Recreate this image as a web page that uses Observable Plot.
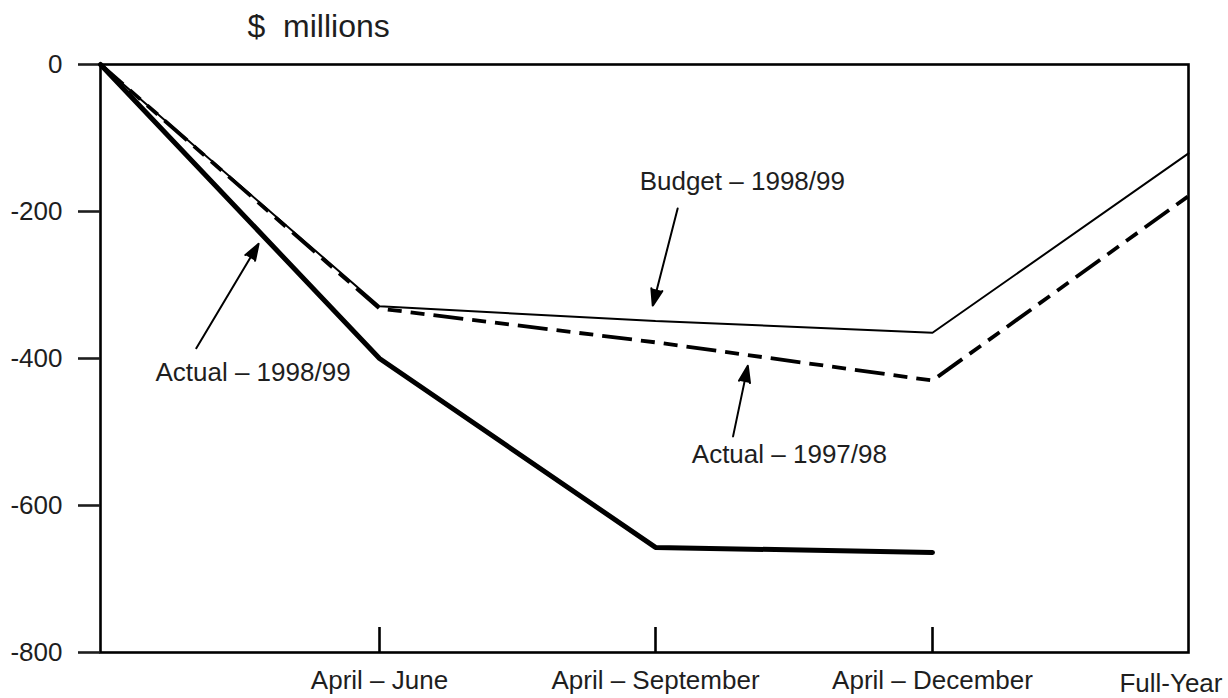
<!DOCTYPE html>
<html>
<head>
<meta charset="utf-8">
<script src="https://cdn.jsdelivr.net/npm/d3@7"></script>
<script src="https://cdn.jsdelivr.net/npm/@observablehq/plot@0.6"></script>
<style>
  html, body { margin: 0; padding: 0; background: #fff; }
</style>
</head>
<body>
<div id="chart"></div>
<script>
// Cumulative position through the fiscal year, $ millions
const periods = ["", "April – June", "April – September", "April – December", "Full-Year"];
const months = [0, 3, 6, 9, 12];
const budget9899 = [0, -329, -349, -365, -121];
const actual9798 = [0, -332, -378, -430, -179];
const actual9899 = [0, -400, -657, -664, null];
const yTicks = [0, -200, -400, -600, -800];

// Callouts: label text, label position, arrow tail and arrow tip (data units)
const noteLabels = ["Budget – 1998/99", "Actual – 1998/99", "Actual – 1997/98"];
const noteX = [6.94, 1.64, 7.45];
const noteY = [-160, -419, -531];
const arrowFromX = [6.24, 1.03, 6.84];
const arrowFromY = [-196, -386, -506];
const arrowToX = [5.97, 1.70, 7.0];
const arrowToY = [-328, -244, -410];

const series = (values) => months.map((m, i) => ({m, v: values[i]})).filter(d => d.v != null);
const notes = noteLabels.map((t, i) => ({
  t, x: noteX[i], y: noteY[i],
  x1: arrowFromX[i], y1: arrowFromY[i], x2: arrowToX[i], y2: arrowToY[i]
}));
const label = m => periods[months.indexOf(m)];

const chart = Plot.plot({
  width: 1228,
  height: 698,
  marginLeft: 100,
  marginRight: 40,
  marginTop: 64,
  marginBottom: 46,
  style: {fontFamily: "'Liberation Sans', Arial, Helvetica, sans-serif", fontSize: "26px", color: "#1e1e1e", background: "#fff"},
  x: {type: "linear", domain: months, range: [100, 379, 655, 932, 1188]},
  y: {domain: [-800, 0]},
  marks: [
    Plot.frame({strokeWidth: 2.6, stroke: "#000"}),
    Plot.axisY(yTicks, {tickSize: 22, tickPadding: 16, strokeWidth: 2.6, tickFormat: d => String(d), fontSize: 26}),
    Plot.axisX(months.slice(1, 4), {tickSize: 0, tickPadding: 18, tickFormat: label, fontSize: 26}),
    Plot.tickX(months.slice(1, 4), {x: d => d, insetTop: 563, strokeWidth: 2.6, stroke: "#000"}),
    Plot.text([12], {x: d => d, frameAnchor: "bottom", lineAnchor: "top", textAnchor: "end", dx: 34, dy: 21, text: label, fontSize: 26}),
    Plot.text(["$\u00a0 millions"], {frameAnchor: "top-left", textAnchor: "start", lineAnchor: "top", dx: 147, dy: -50, text: d => d, fontSize: 32}),
    Plot.line(series(actual9798), {x: "m", y: "v", stroke: "#000", strokeWidth: 3.8, strokeDasharray: "30,9,14,9,14,9", strokeLinejoin: "miter", strokeLinecap: "butt"}),
    Plot.line(series(budget9899), {x: "m", y: "v", stroke: "#000", strokeWidth: 2, strokeLinejoin: "miter"}),
    Plot.line(series(actual9899), {x: "m", y: "v", stroke: "#000", strokeWidth: 5, strokeLinejoin: "miter", strokeLinecap: "round"}),
    Plot.arrow(notes, {x1: "x1", y1: "y1", x2: "x2", y2: "y2", stroke: "#000", fill: "#000", strokeWidth: 2, headLength: 13, headAngle: 38, strokeLinejoin: "miter"}),
    Plot.text(notes, {x: "x", y: "y", text: "t", fontSize: 26, lineAnchor: "middle"})
  ]
});
document.getElementById("chart").appendChild(chart);
</script>
</body>
</html>
